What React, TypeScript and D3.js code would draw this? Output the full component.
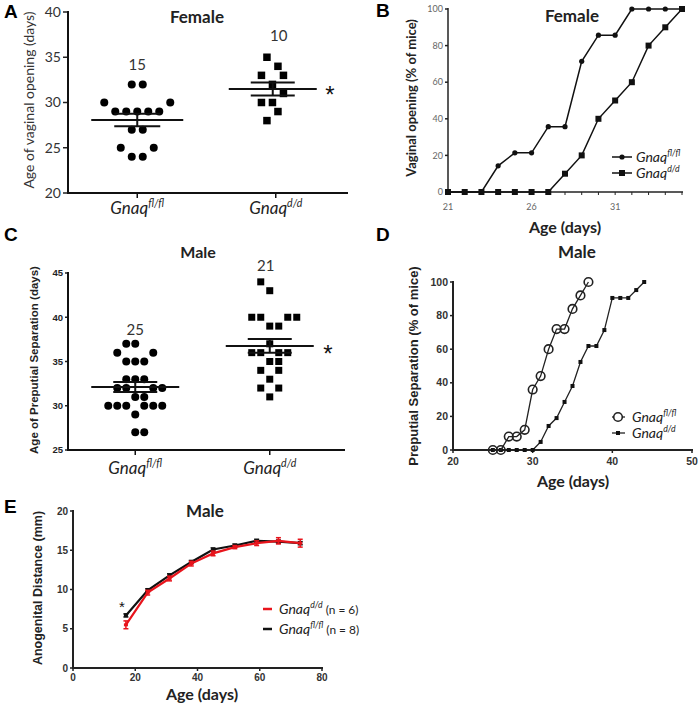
import React from "react";
import * as d3 from "d3";

const W = 700;
const H = 706;
const CAL = "Lato, 'Open Sans', sans-serif";
const ARIAL = "'Liberation Sans', Arial, sans-serif";

const groups = ["fl/fl", "d/d"];

// A: female, age of vaginal opening (days), one entry per mouse
const femaleFlAge = [32, 32, 30, 30, 29, 29, 29, 29, 29, 27, 27, 25, 25, 24, 24];
const femaleFlSlot = [-0.5, 0.5, -3, 3, -2, -1, 0, 1, 2, -0.5, 0.5, -1.5, 1.5, -0.5, 0.5];
const femaleDdAge = [35, 34, 33, 33, 32, 31, 30, 30, 29, 28];
const femaleDdSlot = [-0.8, 0.2, -1.3, 0.7, -0.3, 0.7, -1.3, -0.3, 0.2, -0.8];

// B: female, cumulative vaginal opening (% of mice)
const femaleDays = [21, 22, 23, 24, 25, 26, 27, 28, 29, 30, 31, 32, 33, 34, 35];
const femaleFlPct = [0, 0, 0, 14.3, 21.4, 21.4, 35.7, 35.7, 71.4, 85.7, 85.7, 100, 100, 100, 100];
const femaleDdPct = [0, 0, 0, 0, 0, 0, 0, 10, 20, 40, 50, 60, 80, 90, 100];
const femaleDayTicks = [21, 26, 31];

// C: male, age of preputial separation (days)
const maleFlAge = [37, 37, 36, 36, 35, 35, 35, 33, 33, 33, 32, 32, 32, 32, 31, 31, 30, 30, 30, 30, 30, 30, 29, 27, 27];
const maleFlSlot = [-1, 0, -2, 2, -1, 0, 1, -1, 0, 1, -2, -1, 2, 3, 0, 1, -3, -2, -1, 1, 2, 3, 0, 0, 1];
const maleDdAge = [44, 43, 40, 40, 40, 40, 39, 39, 37, 36, 36, 36, 36, 35, 35, 34, 34, 33, 32, 32, 31];
const maleDdSlot = [-1, 0, -2, -1, 2, 3, 0, 1, 0, -2, -1, 1, 2, 0, 1, -1, 1, 0, -1, 1, 0];

// D: male, cumulative preputial separation (% of mice)
const maleFlDays = [25, 26, 27, 28, 29, 30, 31, 32, 33, 34, 35, 36, 37];
const maleFlPct = [0, 0, 8, 8, 12, 36, 44, 60, 72, 72, 84, 92, 100];
const maleDdDays = [25, 26, 27, 28, 29, 30, 31, 32, 33, 34, 35, 36, 37, 38, 39, 40, 41, 42, 43, 44];
const maleDdPct = [0, 0, 0, 0, 0, 0, 4.8, 14.3, 19, 28.6, 38.1, 52.4, 61.9, 61.9, 71.4, 90.5, 90.5, 90.5, 95.2, 100];

// E: male anogenital distance (mm)
const agdAges = [17, 24, 31, 38, 45, 52, 59, 66, 73];
const agdFl = [6.7, 9.9, 11.8, 13.5, 15.1, 15.6, 16.2, 16.1, 15.9];
const agdFlErr = [0.2, 0.2, 0.2, 0.2, 0.2, 0.2, 0.2, 0.2, 0.2];
const agdDd = [5.5, 9.6, 11.4, 13.3, 14.6, 15.4, 15.9, 16.2, 15.9];
const agdDdErr = [0.5, 0.3, 0.3, 0.3, 0.3, 0.2, 0.3, 0.4, 0.5];

const Gnaq = ({ x, y, sup, size, anchor = "start", tail = "" }) => (
  <text x={x} y={y} fontSize={size} textAnchor={anchor} fontFamily={CAL} fill="#222">
    <tspan fontStyle="italic">Gnaq</tspan>
    <tspan fontStyle="italic" fontSize={size * 0.62} dy={-size * 0.42}>{sup}</tspan>
    {tail && <tspan dy={size * 0.42} fontSize={size * 0.85}>{tail}</tspan>}
  </text>
);

const Star = ({ x, y, size }) => (
  <text x={x} y={y} textAnchor="middle" fontSize={size} fontFamily={ARIAL} fill="#111">*</text>
);

const Dots = ({ xc, values, slots, y, step, shape, size, open = false }) => (
  <g>
    {values.map((v, i) =>
      shape === "circle" ? (
        <circle key={i} cx={xc + slots[i] * step} cy={y(v)} r={size / 2}
          fill={open ? "#fff" : "#000"} stroke={open ? "#222" : "none"} strokeWidth={1.5} />
      ) : (
        <rect key={i} x={xc + slots[i] * step - size / 2} y={y(v) - size / 2} width={size} height={size} fill="#000" />
      )
    )}
  </g>
);

const MeanSem = ({ xc, values, y, half }) => {
  const m = d3.mean(values);
  const sem = d3.deviation(values) / Math.sqrt(values.length);
  return (
    <g stroke="#111" strokeWidth={2}>
      <line x1={xc - half} x2={xc + half} y1={y(m)} y2={y(m)} />
      <line x1={xc - half / 2} x2={xc + half / 2} y1={y(m + sem)} y2={y(m + sem)} />
      <line x1={xc - half / 2} x2={xc + half / 2} y1={y(m - sem)} y2={y(m - sem)} />
      <line x1={xc} x2={xc} y1={y(m + sem)} y2={y(m - sem)} />
    </g>
  );
};

const YTicks = ({ y, ticks, x0, font, size, fill, weight = "normal", len = 5 }) => (
  <g>
    {ticks.map((t) => (
      <g key={t}>
        <line x1={x0 - len} x2={x0} y1={y(t)} y2={y(t)} stroke="#222" strokeWidth={1.5} />
        <text x={x0 - len - 2} y={y(t)} dy="0.35em" textAnchor="end" fontSize={size}
          fontFamily={font} fontWeight={weight} fill={fill}>{t}</text>
      </g>
    ))}
  </g>
);

const XTicks = ({ x, ticks, y0, font, size, fill, weight = "normal", len = 4, labelY }) => (
  <g>
    {ticks.map((t) => (
      <g key={t}>
        <line x1={x(t)} x2={x(t)} y1={y0} y2={y0 + len} stroke="#222" strokeWidth={1.5} />
        <text x={x(t)} y={labelY} textAnchor="middle" fontSize={size}
          fontFamily={font} fontWeight={weight} fill={fill}>{t}</text>
      </g>
    ))}
  </g>
);

const YTitle = ({ x, y, text, size, font, weight = "bold", fill = "#222" }) => (
  <text transform={`translate(${x},${y}) rotate(-90)`} textAnchor="middle" fontSize={size}
    fontFamily={font} fontWeight={weight} fill={fill}>{text}</text>
);

const Letter = ({ x, y, t }) => (
  <text x={x} y={y} fontSize={19} fontFamily={ARIAL} fontWeight="bold" fill="#000">{t}</text>
);

function PanelA() {
  const y = d3.scaleLinear().domain([20, 40]).range([193, 12]);
  const x = d3.scalePoint().domain(groups).range([68, 345]).padding(0.5);
  return (
    <g>
      <Letter x={4} y={18} t="A" />
      <YTitle x={34} y={100} text="Age of vaginal opening (days)" size={14} font={CAL} weight="normal" fill="#333" />
      <YTicks y={y} ticks={[20, 25, 30, 35, 40]} x0={68} font={CAL} size={14} fill="#333" />
      <line x1={68} x2={68} y1={11} y2={194} stroke="#111" strokeWidth={2} />
      <line x1={67} x2={348} y1={193} y2={193} stroke="#111" strokeWidth={2} />
      {groups.map((g) => (
        <line key={g} x1={x(g)} x2={x(g)} y1={193} y2={198} stroke="#111" strokeWidth={1.5} />
      ))}
      <Gnaq x={x("fl/fl")} y={214} sup="fl/fl" size={17} anchor="middle" />
      <Gnaq x={x("d/d")} y={214} sup="d/d" size={17} anchor="middle" />
      <text x={197} y={23} textAnchor="middle" fontSize={17} fontWeight="bold" fontFamily={CAL} fill="#222">Female</text>
      <text x={x("fl/fl")} y={70} textAnchor="middle" fontSize={15} fontFamily={CAL} fill="#333">{femaleFlAge.length}</text>
      <text x={x("d/d") + 3} y={41} textAnchor="middle" fontSize={15} fontFamily={CAL} fill="#333">{femaleDdAge.length}</text>
      <Star x={330} y={103} size={24} />
      <Dots xc={x("fl/fl")} values={femaleFlAge} slots={femaleFlSlot} y={y} step={11} shape="circle" size={8} />
      <Dots xc={x("d/d")} values={femaleDdAge} slots={femaleDdSlot} y={y} step={11} shape="square" size={7.5} />
      <MeanSem xc={x("fl/fl")} values={femaleFlAge} y={y} half={46} />
      <MeanSem xc={x("d/d") - 3} values={femaleDdAge} y={y} half={44} />
    </g>
  );
}

function PanelB() {
  const x = d3.scaleLinear().domain([21, 35]).range([448, 682]);
  const y = d3.scaleLinear().domain([0, 100]).range([192, 9]);
  const line = d3.line().x((d) => x(d[0])).y((d) => y(d[1]));
  const fl = femaleDays.map((d, i) => [d, femaleFlPct[i]]);
  const dd = femaleDays.map((d, i) => [d, femaleDdPct[i]]);
  return (
    <g>
      <Letter x={376} y={17} t="B" />
      <YTitle x={416} y={98} text="Vaginal opening (% of mice)" size={13} font={CAL} />
      <YTicks y={y} ticks={[0, 20, 40, 60, 80, 100]} x0={448} font={CAL} size={9} fill="#666" len={3} />
      {femaleDays.map((d) => (
        <line key={d} x1={x(d)} x2={x(d)} y1={192} y2={195} stroke="#222" strokeWidth={1} />
      ))}
      {femaleDayTicks.map((d) => (
        <text key={d} x={x(d)} y={210} textAnchor="middle" fontSize={9} fontFamily={CAL} fill="#666">{d}</text>
      ))}
      <line x1={448} x2={448} y1={8} y2={193} stroke="#222" strokeWidth={1.5} />
      <line x1={447} x2={683} y1={192} y2={192} stroke="#222" strokeWidth={1.5} />
      <text x={565} y={233} textAnchor="middle" fontSize={16} fontWeight="bold" fontFamily={CAL} fill="#222">Age (days)</text>
      <text x={572} y={22} textAnchor="middle" fontSize={17} fontWeight="bold" fontFamily={CAL} fill="#222">Female</text>
      <path d={line(fl)} fill="none" stroke="#111" strokeWidth={1.5} />
      <path d={line(dd)} fill="none" stroke="#111" strokeWidth={1.5} />
      {fl.map((p, i) => <circle key={i} cx={x(p[0])} cy={y(p[1])} r={2.6} fill="#111" />)}
      {dd.map((p, i) => <rect key={i} x={x(p[0]) - 3} y={y(p[1]) - 3} width={6} height={6} fill="#111" />)}
      <line x1={612} x2={632} y1={157} y2={157} stroke="#111" strokeWidth={1.5} />
      <circle cx={622} cy={157} r={2.6} fill="#111" />
      <Gnaq x={636} y={162} sup="fl/fl" size={14} />
      <line x1={612} x2={632} y1={173} y2={173} stroke="#111" strokeWidth={1.5} />
      <rect x={619} y={170} width={6} height={6} fill="#111" />
      <Gnaq x={636} y={178} sup="d/d" size={14} />
    </g>
  );
}

function PanelC() {
  const y = d3.scaleLinear().domain([25, 45]).range([450, 273]);
  const x = d3.scalePoint().domain(groups).range([68, 337]).padding(0.5);
  return (
    <g>
      <Letter x={4} y={241} t="C" />
      <YTitle x={38} y={360} text="Age of Preputial Separation (days)" size={11.5} font={ARIAL} />
      <YTicks y={y} ticks={[25, 30, 35, 40, 45]} x0={68} font={ARIAL} size={9.5} fill="#222" weight="bold" len={3} />
      <line x1={68} x2={68} y1={272} y2={451} stroke="#111" strokeWidth={2} />
      <line x1={67} x2={345} y1={450} y2={450} stroke="#111" strokeWidth={2} />
      {groups.map((g) => (
        <line key={g} x1={x(g)} x2={x(g)} y1={450} y2={455} stroke="#111" strokeWidth={1.5} />
      ))}
      <Gnaq x={x("fl/fl")} y={474} sup="fl/fl" size={17} anchor="middle" />
      <Gnaq x={x("d/d")} y={474} sup="d/d" size={17} anchor="middle" />
      <text x={198} y={258} textAnchor="middle" fontSize={16} fontWeight="bold" fontFamily={CAL} fill="#222">Male</text>
      <text x={x("fl/fl")} y={335} textAnchor="middle" fontSize={15} fontFamily={CAL} fill="#333">{maleFlAge.length}</text>
      <text x={x("d/d") - 4} y={271} textAnchor="middle" fontSize={15} fontFamily={CAL} fill="#333">{maleDdAge.length}</text>
      <Star x={328} y={362} size={24} />
      <Dots xc={x("fl/fl")} values={maleFlAge} slots={maleFlSlot} y={y} step={9} shape="circle" size={8} />
      <Dots xc={x("d/d")} values={maleDdAge} slots={maleDdSlot} y={y} step={9} shape="square" size={7} />
      <MeanSem xc={x("fl/fl")} values={maleFlAge} y={y} half={44} />
      <MeanSem xc={x("d/d")} values={maleDdAge} y={y} half={44} />
    </g>
  );
}

function PanelD() {
  const x = d3.scaleLinear().domain([20, 50]).range([453, 692]);
  const y = d3.scaleLinear().domain([0, 100]).range([450, 282]);
  const line = d3.line().x((d) => x(d[0])).y((d) => y(d[1]));
  const fl = maleFlDays.map((d, i) => [d, maleFlPct[i]]);
  const dd = maleDdDays.map((d, i) => [d, maleDdPct[i]]);
  return (
    <g>
      <Letter x={376} y={241} t="D" />
      <YTitle x={418} y={366} text="Preputial Separation (% of mice)" size={13} font={ARIAL} />
      <YTicks y={y} ticks={[0, 20, 40, 60, 80, 100]} x0={453} font={ARIAL} size={10.5} fill="#333" weight="bold" len={3} />
      <XTicks x={x} ticks={[20, 30, 40, 50]} y0={450} font={ARIAL} size={10.5} fill="#333" weight="bold" len={3} labelY={465} />
      <line x1={453} x2={453} y1={281} y2={451} stroke="#222" strokeWidth={2} />
      <line x1={452} x2={693} y1={450} y2={450} stroke="#222" strokeWidth={2} />
      <text x={573} y={487} textAnchor="middle" fontSize={16} fontWeight="bold" fontFamily={CAL} fill="#222">Age (days)</text>
      <text x={577} y={258} textAnchor="middle" fontSize={17} fontWeight="bold" fontFamily={CAL} fill="#222">Male</text>
      <path d={line(dd)} fill="none" stroke="#222" strokeWidth={1.3} />
      {dd.map((p, i) => <rect key={i} x={x(p[0]) - 2} y={y(p[1]) - 2} width={4} height={4} fill="#111" />)}
      <path d={line(fl)} fill="none" stroke="#222" strokeWidth={1.3} />
      {fl.map((p, i) => (
        <circle key={i} cx={x(p[0])} cy={y(p[1])} r={4.3} fill="none" stroke="#222" strokeWidth={1.6} />
      ))}
      <line x1={612} x2={625} y1={417} y2={417} stroke="#222" strokeWidth={1.3} />
      <circle cx={618} cy={417} r={4.3} fill="#fff" stroke="#222" strokeWidth={1.6} />
      <Gnaq x={632} y={422} sup="fl/fl" size={14} />
      <line x1={612} x2={625} y1={433} y2={433} stroke="#222" strokeWidth={1.3} />
      <rect x={616} y={431} width={4} height={4} fill="#111" />
      <Gnaq x={632} y={438} sup="d/d" size={14} />
    </g>
  );
}

function PanelE() {
  const x = d3.scaleLinear().domain([0, 80]).range([73, 322]);
  const y = d3.scaleLinear().domain([0, 20]).range([668, 511]);
  const line = d3.line().x((d) => x(d[0])).y((d) => y(d[1]));
  const series = [
    { vals: agdFl, err: agdFlErr, color: "#111" },
    { vals: agdDd, err: agdDdErr, color: "#e8141c" },
  ];
  return (
    <g>
      <Letter x={4} y={513} t="E" />
      <YTitle x={42} y={588} text="Anogenital Distance (mm)" size={12.5} font={ARIAL} />
      <YTicks y={y} ticks={[0, 5, 10, 15, 20]} x0={73} font={ARIAL} size={10} fill="#333" weight="bold" len={3} />
      <XTicks x={x} ticks={[0, 20, 40, 60, 80]} y0={668} font={ARIAL} size={10} fill="#333" weight="bold" len={3} labelY={681} />
      <line x1={73} x2={73} y1={510} y2={669} stroke="#222" strokeWidth={2} />
      <line x1={72} x2={323} y1={668} y2={668} stroke="#222" strokeWidth={2} />
      <text x={202} y={700} textAnchor="middle" fontSize={16} fontWeight="bold" fontFamily={CAL} fill="#222">Age (days)</text>
      <text x={205} y={517} textAnchor="middle" fontSize={17} fontWeight="bold" fontFamily={CAL} fill="#222">Male</text>
      <Star x={122} y={612} size={15} />
      {series.map((s, k) => (
        <g key={k}>
          <path d={line(agdAges.map((a, i) => [a, s.vals[i]]))} fill="none" stroke={s.color} strokeWidth={2.2} />
          {agdAges.map((a, i) => (
            <g key={i} stroke={s.color} strokeWidth={1.5}>
              <line x1={x(a)} x2={x(a)} y1={y(s.vals[i] - s.err[i])} y2={y(s.vals[i] + s.err[i])} />
              <line x1={x(a) - 2.5} x2={x(a) + 2.5} y1={y(s.vals[i] - s.err[i])} y2={y(s.vals[i] - s.err[i])} />
              <line x1={x(a) - 2.5} x2={x(a) + 2.5} y1={y(s.vals[i] + s.err[i])} y2={y(s.vals[i] + s.err[i])} />
              <rect x={x(a) - 2} y={y(s.vals[i]) - 1.5} width={4} height={3} fill={s.color} stroke="none" />
            </g>
          ))}
        </g>
      ))}
      <line x1={263} x2={272} y1={609} y2={609} stroke="#e8141c" strokeWidth={2.5} />
      <Gnaq x={279} y={614} sup="d/d" size={14} tail=" (n = 6)" />
      <line x1={263} x2={272} y1={629} y2={629} stroke="#111" strokeWidth={2.5} />
      <Gnaq x={279} y={634} sup="fl/fl" size={14} tail=" (n = 8)" />
    </g>
  );
}

export default function App() {
  return (
    <svg width={W} height={H} style={{ position: "absolute", left: 0, top: 0, background: "#fff" }}>
      <rect width={W} height={H} fill="#fff" />
      <PanelA />
      <PanelB />
      <PanelC />
      <PanelD />
      <PanelE />
    </svg>
  );
}
